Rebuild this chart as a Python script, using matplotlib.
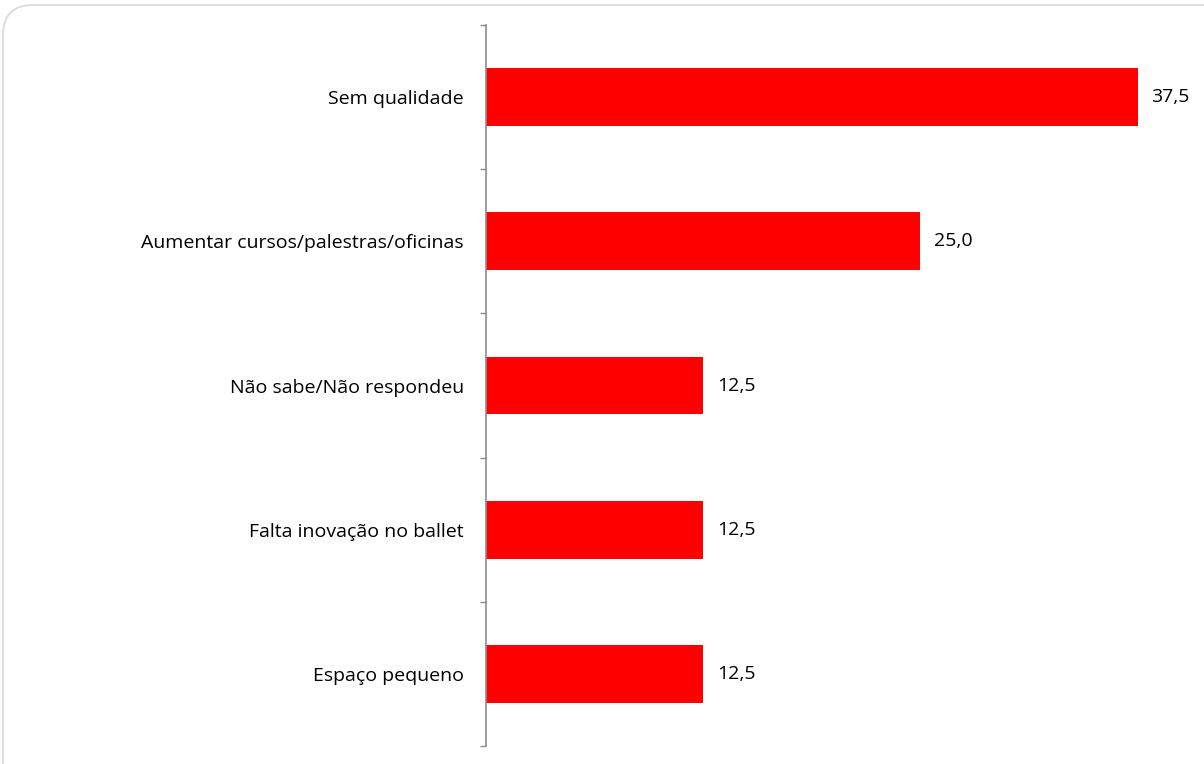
"""Horizontal bar chart - sugestões / críticas (%)."""
import numpy as np
import matplotlib
matplotlib.use("Agg")
import matplotlib.pyplot as plt
from matplotlib.patches import FancyBboxPatch

# ── data ─────────────────────────────────────────────────────────────────────
categories = [
    "Sem qualidade",
    "Aumentar cursos/palestras/oficinas",
    "Não sabe/Não respondeu",
    "Falta inovação no ballet",
    "Espaço pequeno",
]
values = [37.5, 25.0, 12.5, 12.5, 12.5]

# ── palette ──────────────────────────────────────────────────────────────────
RED   = "#ff0000"
AXIS  = "#8c8c8c"
FRAME = "#d9d9d9"
TEXT  = "#000000"

plt.rcParams["font.family"] = ["Open Sans", "DejaVu Sans"]

fig = plt.figure(figsize=(12.04, 7.64), dpi=100, facecolor="white")

# rounded outer frame (extends past right/bottom edge)
frame = FancyBboxPatch((3 / 1204, -0.05), 1.2, 1.05 - 5 / 764,
                       boxstyle="round,pad=0,rounding_size=0.025",
                       transform=fig.transFigure, facecolor="none",
                       edgecolor=FRAME, linewidth=1.2, mutation_aspect=1204 / 764,
                       zorder=0)
fig.patches.append(frame)

ax = fig.add_axes([486 / 1204, 1 - 746 / 764, (1181 - 486) / 1204, (746 - 25) / 764])
ax.set_facecolor("none")

y = np.arange(len(categories))
ax.barh(y, values, height=0.4, color=RED, zorder=2)

for yi, v in zip(y, values):
    ax.text(v + 0.8, yi, f"{v:.1f}".replace(".", ","), va="center", ha="left",
            fontsize=14, color=TEXT)

ax.set_xlim(0, 40)
ax.set_ylim(len(categories) - 0.5, -0.5)

ax.set_yticks(y)
ax.set_yticklabels(categories, fontsize=14, color=TEXT)
ax.set_yticks(np.arange(len(categories) + 1) - 0.5, minor=True)
ax.tick_params(axis="y", which="major", length=0, pad=16)
ax.tick_params(axis="y", which="minor", length=4.5, width=1, color=AXIS, direction="out")
ax.set_xticks([])

for s in ["top", "right", "bottom"]:
    ax.spines[s].set_visible(False)
ax.spines["left"].set_color(AXIS)
ax.spines["left"].set_linewidth(1.2)

fig.savefig("out.png", dpi=100, facecolor="white")
